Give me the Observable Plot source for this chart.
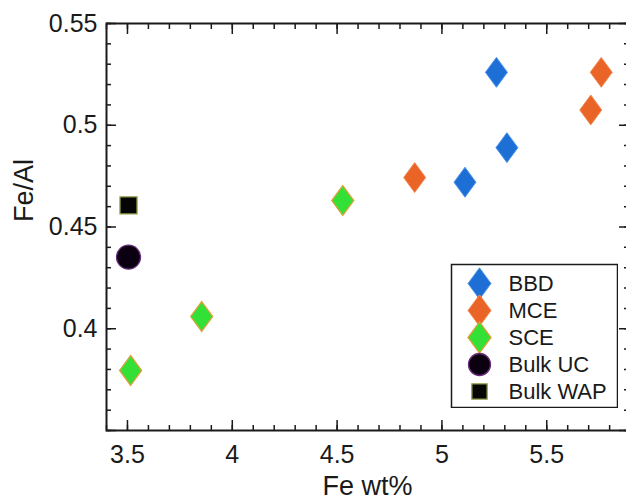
<!DOCTYPE html>
<html>
<head>
<meta charset="utf-8">
<script src="https://cdn.jsdelivr.net/npm/d3@7"></script>
<script src="https://cdn.jsdelivr.net/npm/@observablehq/plot@0.6"></script>
<style>
html, body { margin: 0; padding: 0; background: #fff; overflow: hidden; }
#wrap { position: relative; width: 626px; height: 501px; overflow: hidden; background: #fff; }
#wrap svg { max-width: none !important; display: block; }
#legend { position: absolute; left: 450px; top: 263px; }
</style>
</head>
<body>
<div id="wrap"><div id="chart"></div><div id="legend"></div></div>
<script>
// ---- data ----
const series = ["BBD", "MCE", "SCE", "Bulk UC", "Bulk WAP"];
const bbdFe = [5.26, 5.31, 5.11];
const bbdRatio = [0.526, 0.489, 0.472];
const mceFe = [5.76, 5.71, 4.87];
const mceRatio = [0.526, 0.5075, 0.4743];
const sceFe = [4.527, 3.854, 3.515];
const sceRatio = [0.463, 0.406, 0.3795];
const ucFe = [3.505];
const ucRatio = [0.4352];
const wapFe = [3.505];
const wapRatio = [0.4606];

const xTicks = [3.5, 4, 4.5, 5, 5.5];
const xTickLabels = ["3.5", "4", "4.5", "5", "5.5"];
const yTicks = [0.4, 0.45, 0.5, 0.55];
const yTickLabels = ["0.4", "0.45", "0.5", "0.55"];
const xMajor = [3.5, 4, 4.5, 5, 5.5];
const yMajor = [0.35, 0.4, 0.45, 0.5, 0.55];
const xMinor = d3.range(34, 59).map(v => v / 10);
const yMinor = d3.range(35, 56).map(v => v / 100);
const xTitle = "Fe wt%";
const yTitle = "Fe/Al";

// ---- helpers ----
const rows = (xs, ys, name) => xs.map((x, i) => ({fe: x, ratio: ys[i], name}));
const tallDiamond = {
  draw(ctx, size) {
    const r = Math.sqrt(size / Math.PI);
    const w = r, h = r * 1.36;
    ctx.moveTo(0, -h); ctx.lineTo(w, 0); ctx.lineTo(0, h); ctx.lineTo(-w, 0); ctx.closePath();
  }
};
const styles = {
  BBD: {symbol: tallDiamond, fill: "#1d6fd6", stroke: "#4d95ea", strokeWidth: 1, r: 11},
  MCE: {symbol: tallDiamond, fill: "#ea6428", stroke: "#f28a50", strokeWidth: 1, r: 11},
  SCE: {symbol: tallDiamond, fill: "#33e036", stroke: "#dba23a", strokeWidth: 1.3, r: 11},
  "Bulk UC": {symbol: "circle", fill: "#0a0010", stroke: "#6a2c7c", strokeWidth: 1.3, r: 12},
  "Bulk WAP": {symbol: "square", fill: "#050505", stroke: "#8c9a45", strokeWidth: 1.3, r: 9.6}
};
const data = {
  BBD: rows(bbdFe, bbdRatio, "BBD"),
  MCE: rows(mceFe, mceRatio, "MCE"),
  SCE: rows(sceFe, sceRatio, "SCE"),
  "Bulk UC": rows(ucFe, ucRatio, "Bulk UC"),
  "Bulk WAP": rows(wapFe, wapRatio, "Bulk WAP")
};

const ink = "#1a1a1a";
const font = "'Liberation Sans', Arial, Helvetica, sans-serif";
const blank = () => "";
const tickMarks = (values, len) => [
  Plot.axisX(values, {anchor: "bottom", tickSize: len, dy: -len, tickFormat: blank, label: null, stroke: ink, strokeWidth: 1.5}),
  Plot.axisX(values, {anchor: "top", tickSize: len, dy: len, tickFormat: blank, label: null, stroke: ink, strokeWidth: 1.5})
];
const tickMarksY = (values, len) => [
  Plot.axisY(values, {anchor: "left", tickSize: len, dx: len, tickFormat: blank, label: null, stroke: ink, strokeWidth: 1.5}),
  Plot.axisY(values, {anchor: "right", tickSize: len, dx: -len, tickFormat: blank, label: null, stroke: ink, strokeWidth: 1.5})
];

const chart = Plot.plot({
  width: 632,
  height: 501,
  marginLeft: 106,
  marginRight: 4,
  marginTop: 23,
  marginBottom: 71,
  style: {fontFamily: font, background: "white", color: ink},
  x: {domain: [3.4, 5.89], label: null},
  y: {domain: [0.35, 0.55], label: null},
  marks: [
    ...tickMarks(xMinor, 5),
    ...tickMarks(xMajor, 10),
    ...tickMarksY(yMinor, 5),
    ...tickMarksY(yMajor, 10),
    Plot.axisX(xTicks, {anchor: "bottom", tickSize: 0, tickPadding: 15, fontSize: 25, fill: ink, tickFormat: (d, i) => xTickLabels[i], label: null}),
    Plot.axisY(yTicks, {anchor: "left", tickSize: 0, tickPadding: 9, fontSize: 25, fill: ink, tickFormat: (d, i) => yTickLabels[i], label: null}),
    Plot.frame({stroke: ink, strokeWidth: 2}),
    Plot.text([xTitle], {frameAnchor: "bottom", dy: 45, lineAnchor: "top", fontSize: 27, fill: ink}),
    Plot.text([yTitle], {frameAnchor: "left", dx: -82, dy: -5, rotate: -90, lineAnchor: "middle", fontSize: 27, fill: ink}),
    ...series.map(s => Plot.dot(data[s], {x: "fe", y: "ratio", ...styles[s]}))
  ]
});
document.getElementById("chart").appendChild(chart);

const legendStyles = {
  BBD: {...styles.BBD, r: 11.5},
  MCE: {...styles.MCE, r: 11.5},
  SCE: {...styles.SCE, r: 11.5},
  "Bulk UC": {...styles["Bulk UC"], r: 11},
  "Bulk WAP": {...styles["Bulk WAP"], r: 8.6}
};
const legend = Plot.plot({
  width: 168,
  height: 145,
  margin: 1,
  style: {fontFamily: font, background: "white", color: ink},
  y: {type: "point", domain: series, range: [19, 129], padding: 0, axis: null},
  marks: [
    Plot.frame({stroke: ink, strokeWidth: 1.5, fill: "white"}),
    ...series.map(s => Plot.dot([s], {y: d => d, frameAnchor: "left", dx: 28, ...legendStyles[s]})),
    Plot.text(series, {y: d => d, text: d => d, frameAnchor: "left", dx: 57, textAnchor: "start", lineAnchor: "middle", fontSize: 22, fill: ink})
  ]
});
document.getElementById("legend").appendChild(legend);
</script>
</body>
</html>
